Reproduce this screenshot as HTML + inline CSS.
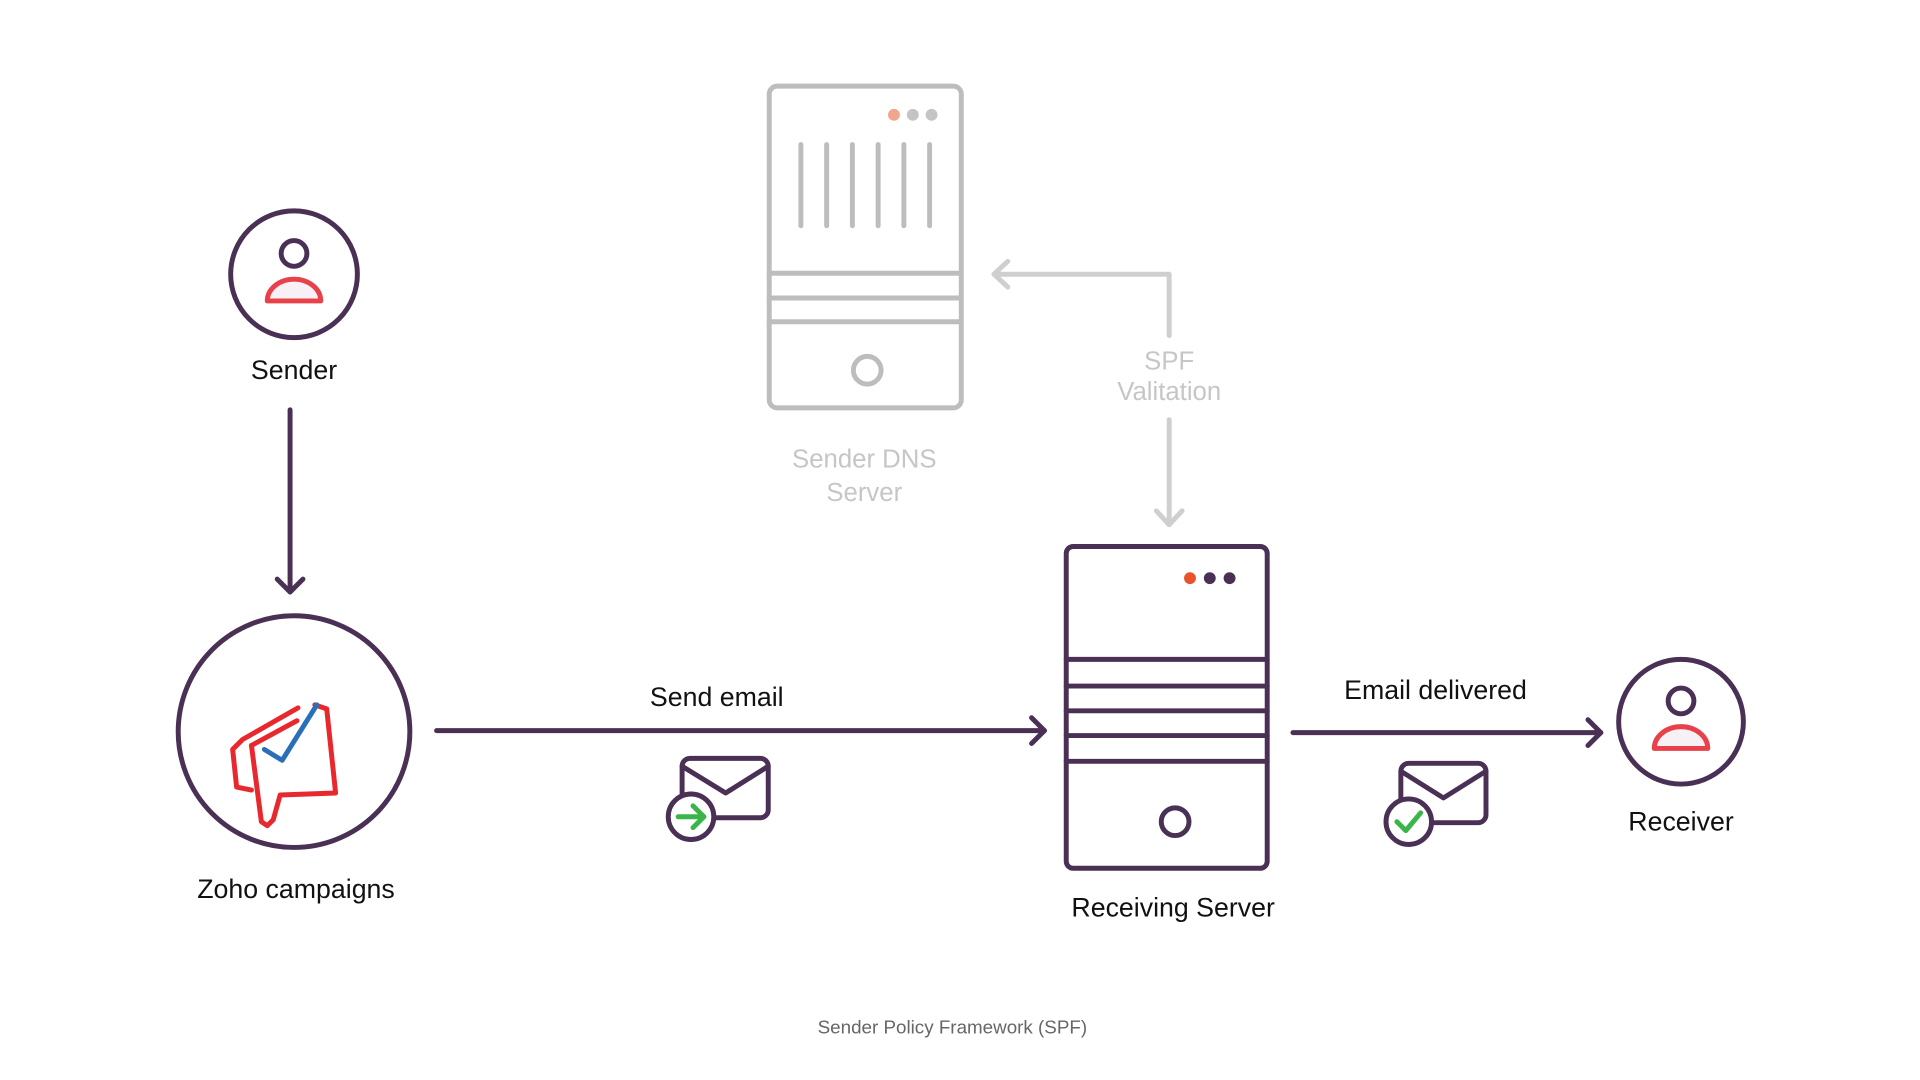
<!DOCTYPE html>
<html><head><meta charset="utf-8"><style>
html,body{margin:0;padding:0;background:#fff;}
svg{display:block;}
text{font-family:"Liberation Sans",sans-serif;}
</style></head><body>
<svg width="1920" height="1080" viewBox="0 0 1920 1080" xmlns="http://www.w3.org/2000/svg">
<g transform="scale(0.99)">
<g fill="none" stroke-linecap="round" stroke-linejoin="round">
<g stroke="#bdbdbd" stroke-width="5">
<rect x="777" y="87" width="194" height="325" rx="8"/>
<line x1="809" y1="146" x2="809" y2="228"/><line x1="835" y1="146" x2="835" y2="228"/>
<line x1="861" y1="146" x2="861" y2="228"/><line x1="887" y1="146" x2="887" y2="228"/>
<line x1="913" y1="146" x2="913" y2="228"/><line x1="939" y1="146" x2="939" y2="228"/>
<line x1="777" y1="276" x2="971" y2="276"/><line x1="777" y1="301" x2="971" y2="301"/><line x1="777" y1="325" x2="971" y2="325"/>
<circle cx="876" cy="374" r="14"/>
</g>
<circle cx="903" cy="116" r="6" fill="#f0a58e"/>
<circle cx="922" cy="116" r="6" fill="#c4c4c4"/>
<circle cx="941" cy="116" r="6" fill="#c4c4c4"/>
<g stroke="#cfcfcf" stroke-width="5">
<polyline points="1181,339 1181,277 1004,277"/>
<polyline points="1018,264 1004,277 1018,290"/>
<line x1="1181" y1="424" x2="1181" y2="530"/>
<polyline points="1168,516 1181,530 1194,516"/>
</g>
<g stroke="#4a3055" stroke-width="5">
<circle cx="297" cy="277" r="64"/>
<circle cx="297" cy="256" r="13"/>
<line x1="293" y1="414" x2="293" y2="598"/>
<polyline points="280,585 293,598 306,585"/>
<circle cx="297" cy="739" r="117"/>
<line x1="441" y1="738" x2="1055" y2="738"/>
<polyline points="1042,725 1055,738 1042,751"/>
<line x1="1306" y1="740" x2="1617" y2="740"/>
<polyline points="1604,727 1617,740 1604,753"/>
<circle cx="1698" cy="729" r="63"/>
<circle cx="1698" cy="708" r="13"/>
<rect x="1077" y="552" width="203" height="325" rx="7"/>
<line x1="1077" y1="666" x2="1280" y2="666"/><line x1="1077" y1="693" x2="1280" y2="693"/>
<line x1="1077" y1="718" x2="1280" y2="718"/><line x1="1077" y1="743" x2="1280" y2="743"/>
<line x1="1077" y1="769" x2="1280" y2="769"/>
<circle cx="1187" cy="830" r="14"/>
<rect x="689" y="766" width="87" height="60" rx="8"/>
<polyline points="689,774 733,801 776,774"/>
<circle cx="698" cy="825" r="23" fill="#fff"/>
<rect x="1415" y="771" width="86" height="60" rx="8"/>
<polyline points="1415,779 1458,806 1501,779"/>
<circle cx="1423" cy="830" r="23" fill="#fff"/>
</g>
<path d="M270,304 a27,22 0 0 1 54,0 z" stroke="#e8414a" stroke-width="5" fill="#f7f1f6"/>
<path d="M1671,756 a27,22 0 0 1 54,0 z" stroke="#e8414a" stroke-width="5" fill="#f7f1f6"/>
<g stroke="#3bb54a" stroke-width="5">
<line x1="685" y1="825" x2="711" y2="825"/><polyline points="700,814 711,825 700,836"/>
<polyline points="1411,830 1420,839 1435,821"/>
</g>
<circle cx="1202" cy="584" r="6" fill="#e8532b"/>
<circle cx="1222" cy="584" r="6" fill="#4a3055"/>
<circle cx="1242" cy="584" r="6" fill="#4a3055"/>
<g stroke="#e8282d" stroke-width="5">
<polyline points="301,715 245,747 235,757 239,795 254,798"/>
<path d="M254,753 L264,830 L270,834 L276,828 L283,803 L339,801 L330,716 L318,712"/>
<line x1="254" y1="753" x2="300" y2="728"/>
</g>
<polyline points="267,757 285,768 320,712" stroke="#2a6fb8" stroke-width="5"/>
</g>
<g font-size="27" fill="#111" text-anchor="middle">
<text x="297" y="383">Sender</text>
<text x="299" y="907">Zoho campaigns</text>
<text x="724" y="713">Send email</text>
<text x="1450" y="706">Email delivered</text>
<text x="1185" y="926">Receiving Server</text>
<text x="1698" y="839">Receiver</text>
</g>
<g font-size="26" fill="#c6c6c6" text-anchor="middle">
<text x="873" y="472">Sender DNS</text>
<text x="873" y="506">Server</text>
<text x="1181" y="373">SPF</text>
<text x="1181" y="404">Valitation</text>
</g>
<text x="962" y="1044" font-size="19" fill="#666" text-anchor="middle">Sender Policy Framework (SPF)</text>
</g>
</svg>
</body></html>
